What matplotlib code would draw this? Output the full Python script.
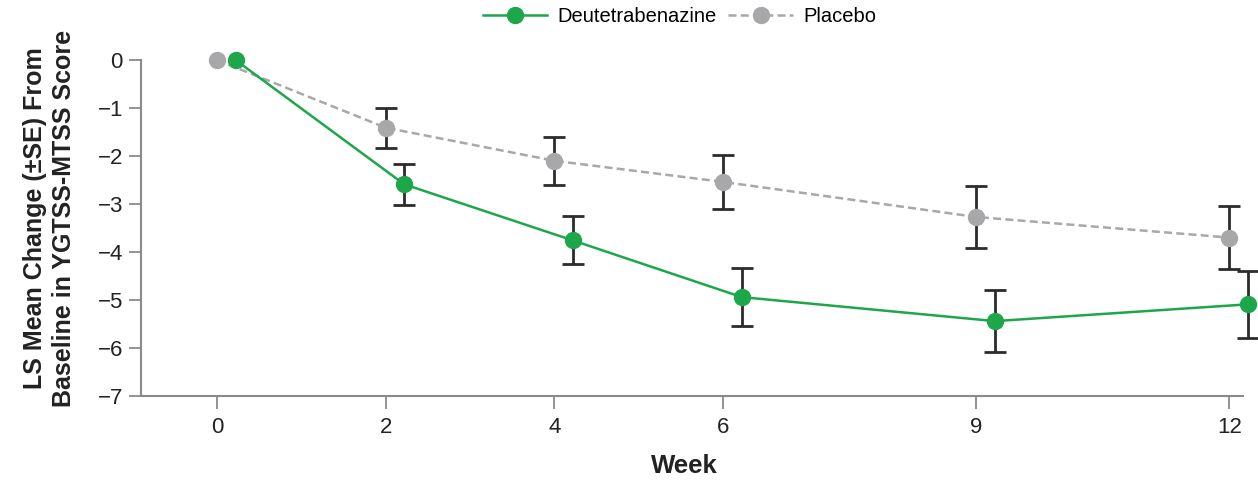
import matplotlib
matplotlib.use("Agg")
import matplotlib.pyplot as plt
import numpy as np

plt.rcParams['font.family'] = ['Liberation Sans', 'DejaVu Sans']

weeks = [0, 2, 4, 6, 9, 12]
week_labels = ["0", "2", "4", "6", "9", "12"]
deu_mean = [0.0, -2.59, -3.76, -4.94, -5.44, -5.09]
deu_se = [np.nan, 0.43, 0.50, 0.60, 0.64, 0.70]
pbo_mean = [0.0, -1.41, -2.10, -2.54, -3.27, -3.70]
pbo_se = [np.nan, 0.42, 0.50, 0.57, 0.65, 0.66]
yticks = [0, -1, -2, -3, -4, -5, -6, -7]

dodge = 0.22
green = "#1ea64b"
gray = "#a8a8aa"
spine_c = "#8a8a8a"

fig = plt.figure(figsize=(12.58, 4.82), dpi=100)
ax = fig.add_axes([141/1258, (482-396)/482, (1243-141)/1258, (396-60)/482])

wk = np.array(weeks, dtype=float)
# placebo
ax.errorbar(wk, pbo_mean, yerr=pbo_se, fmt='none', ecolor="#2b2b2b",
            elinewidth=2, capsize=8, capthick=2, zorder=2, clip_on=False)
ax.plot(wk, pbo_mean, color=gray, linestyle=(0, (3.2, 1.7)), linewidth=1.8,
        marker='o', markersize=11.5, markerfacecolor=gray, markeredgecolor=gray,
        zorder=3, clip_on=False, label="Placebo")
# deutetrabenazine
ax.errorbar(wk + dodge, deu_mean, yerr=deu_se, fmt='none', ecolor="#2b2b2b",
            elinewidth=2, capsize=8, capthick=2, zorder=4, clip_on=False)
ax.plot(wk + dodge, deu_mean, color=green, linestyle='-', linewidth=1.8,
        marker='o', markersize=11.5, markerfacecolor=green, markeredgecolor=green,
        zorder=5, clip_on=False, label="Deutetrabenazine")

ax.set_xlim(-0.9, 12.16)
ax.set_ylim(-7, 0)
ax.set_xticks(weeks)
ax.set_xticklabels(week_labels)
ax.set_yticks(yticks)
ax.set_yticklabels([("\u2212" + str(-t)) if t < 0 else str(t) for t in yticks])

for s in ['top', 'right']:
    ax.spines[s].set_visible(False)
for s in ['left', 'bottom']:
    ax.spines[s].set_color(spine_c)
    ax.spines[s].set_linewidth(1.5)
ax.tick_params(axis='both', colors=spine_c, length=9, width=1.3, labelsize=16,
               labelcolor="#222222")
ax.tick_params(axis='y', pad=4)
ax.tick_params(axis='x', pad=6)

ax.set_xlabel("Week", fontsize=18.5, fontweight='bold', color="#222222")
ax.xaxis.set_label_coords((684 - 141) / 1102, -(478 - 396) / 336, transform=ax.transAxes)
ax.xaxis.label.set_verticalalignment('bottom')
ax.set_ylabel("LS Mean Change (\u00b1SE) From\nBaseline in YGTSS-MTSS Score",
              fontsize=18, fontweight='bold', color="#222222",
              linespacing=1.25)
ax.yaxis.set_label_coords((76 - 141) / 1102, (396 - 218) / 336, transform=ax.transAxes)

handles, labels = ax.get_legend_handles_labels()
leg = fig.legend(handles[::-1], labels[::-1], loc='center',
                 bbox_to_anchor=(0.540, 1 - 17/482), ncol=2, frameon=False,
                 fontsize=14.5, handlelength=3.2, columnspacing=0.6, handletextpad=0.5)

fig.savefig("out.png", dpi=100)
